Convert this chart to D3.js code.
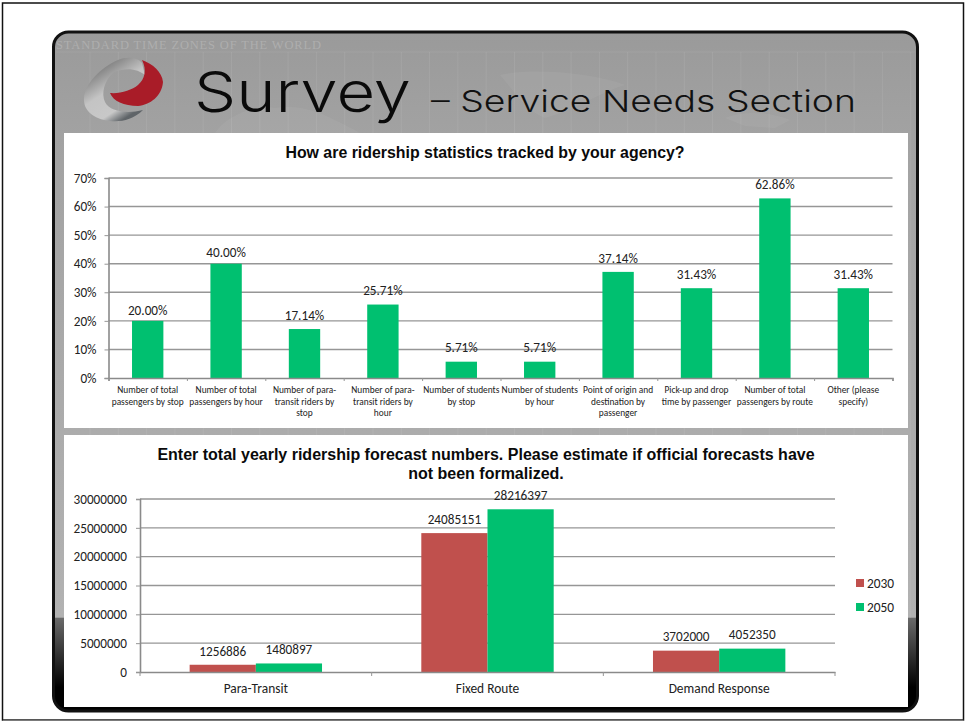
<!DOCTYPE html>
<html><head><meta charset="utf-8">
<script src="https://cdn.jsdelivr.net/npm/d3@7"></script>
<style>html,body{margin:0;padding:0;background:#fff}svg{display:block}</style>
</head><body><div id="c"></div>
<script>
const surveyCategories = [
  ["Number of total","passengers by stop"],
  ["Number of total","passengers by hour"],
  ["Number of para-","transit riders by","stop"],
  ["Number of para-","transit riders by","hour"],
  ["Number of students","by stop"],
  ["Number of students","by hour"],
  ["Point of origin and","destination by","passenger"],
  ["Pick-up and drop","time by passenger"],
  ["Number of total","passengers by route"],
  ["Other (please","specify)"]
];
const surveyValues = [20.00,40.00,17.14,25.71,5.71,5.71,37.14,31.43,62.86,31.43];
const surveyTicks = [0,10,20,30,40,50,60,70];
const forecastCategories = ["Para-Transit","Fixed Route","Demand Response"];
const forecast2030 = [1256886,24085151,3702000];
const forecast2050 = [1480897,28216397,4052350];
const forecastTicks = [0,5000000,10000000,15000000,20000000,25000000,30000000];
const seriesNames = ["2030","2050"];
const title1 = "How are ridership statistics tracked by your agency?";
const title2 = ["Enter total yearly ridership forecast numbers. Please estimate if official forecasts have","not been formalized."];

const GREEN="#00c070", RED="#c0504d", GRID="#969696", LBL="#222";
const CAL="Carlito,Lato,sans-serif", ARIAL="'Liberation Sans',Arial,sans-serif";
const svg=d3.select("#c").append("svg").attr("width",966).attr("height",721);
const defs=svg.append("defs");
const bg=defs.append("linearGradient").attr("id","bg").attr("x1",0).attr("y1",0).attr("x2",0).attr("y2",1);
[[0,"#9a9a9a"],[.15,"#a2a2a2"],[.5,"#aaa"],[.862,"#b2b2b2"],[.863,"#6a6a6a"],[.965,"#000"],[1,"#000"]].forEach(s=>bg.append("stop").attr("offset",s[0]).attr("stop-color",s[1]));
const lg=defs.append("linearGradient").attr("id","sw").attr("x1",.1).attr("y1",.2).attr("x2",.6).attr("y2",1);
[[0,"#777"],[.45,"#c4c4c4"],[.8,"#c8c8c8"],[1,"#5f6468"]].forEach(s=>lg.append("stop").attr("offset",s[0]).attr("stop-color",s[1]));

// page frame
svg.append("rect").attr("x",2.5).attr("y",3).attr("width",961).attr("height",717).attr("fill","#fff").attr("stroke","#111").attr("stroke-width",1.5);
svg.append("path").attr("d","M3 720.3H963.5").attr("stroke","#888").attr("stroke-width",1);
// slide
svg.append("rect").attr("x",53.5).attr("y",32).attr("width",864).attr("height",679).attr("rx",15).attr("fill","url(#bg)").attr("stroke","#111").attr("stroke-width",3);
// faint map graticule and land
const gr=svg.append("g").attr("stroke","#fff").attr("stroke-opacity",.08);
d3.range(90,915,28.3).forEach(x=>gr.append("line").attr("x1",x).attr("x2",x).attr("y1",52).attr("y2",618));
gr.append("line").attr("x1",56).attr("x2",915).attr("y1",52).attr("y2",52);
const land=svg.append("g").attr("fill","#fff").attr("fill-opacity",.05);
land.append("path").attr("d","M215 133C225 118 250 105 275 108C300 104 320 112 345 125L360 133Z");
land.append("path").attr("d","M500 75C530 68 590 72 625 85C600 92 580 108 545 118C525 110 515 92 500 75Z");
land.append("path").attr("d","M725 118C745 110 770 112 790 120L775 128L745 126Z");
svg.append("text").attr("x",56).attr("y",49).attr("font-family","'Liberation Serif',serif").attr("font-size",12.5).attr("fill","#aeaeae").attr("textLength",265).text("STANDARD TIME ZONES OF THE WORLD");
// logo
svg.append("path").attr("d","M143 110C133 120 121 122 110 121C93 119 83 110 84 98C85 84 100 68 118 60C128 56 138 58 142 63L145 75C138 69 127 67 114 72C104 80 101 94 105 102C110 112 128 114 143 110Z").attr("fill","url(#sw)");
svg.append("path").attr("d","M142 60C153 64 162 72 163 82C162 96 150 105 138 106C124 106 113 101 110 93C120 94 132 90 138 85C145 79 147 70 142 60Z").attr("fill","#a91c28");
// headline
svg.append("text").attr("x",194).attr("y",111.5).attr("font-family","Inter,sans-serif").attr("font-weight",300).attr("font-size",56).attr("fill","#0a0a0a").attr("textLength",217).attr("lengthAdjust","spacingAndGlyphs").text("Survey");
svg.append("text").attr("x",431).attr("y",112).attr("font-family","Inter,sans-serif").attr("font-weight",300).attr("font-size",30).attr("fill","#111").attr("textLength",425).attr("lengthAdjust","spacingAndGlyphs").text("– Service Needs Section");
// panels
svg.append("rect").attr("x",64).attr("y",133).attr("width",844).attr("height",295).attr("fill","#fff");
svg.append("rect").attr("x",64).attr("y",435).attr("width",844).attr("height",272).attr("fill","#fff");

// chart 1
const x1=d3.scaleBand().domain(d3.range(surveyValues.length)).range([108.5,892.5]).paddingInner(.6).paddingOuter(.3);
const y1=d3.scaleLinear().domain([0,70]).range([378,178]);
const g1=svg.append("g");
g1.selectAll("line.g").data(surveyTicks.filter(d=>d>0)).join("line").attr("x1",108.5).attr("x2",892.5).attr("y1",d=>y1(d)).attr("y2",d=>y1(d)).attr("stroke",GRID).attr("stroke-width",1.4);
g1.selectAll("rect").data(surveyValues).join("rect").attr("x",(d,i)=>x1(i)).attr("width",x1.bandwidth()).attr("y",d=>y1(d)).attr("height",d=>y1(0)-y1(d)).attr("fill",GREEN);
g1.append("g").attr("transform","translate(108.5,0)").call(d3.axisLeft(y1).tickValues(surveyTicks).tickFormat(d=>d+"%").tickSize(4).tickPadding(8));
g1.append("g").attr("transform","translate(0,378)").call(d3.axisBottom(d3.scaleLinear().domain([0,surveyValues.length]).range([108.5,892.5])).tickValues(d3.range(surveyValues.length+1)).tickFormat("").tickSize(3));
g1.selectAll("text.v").data(surveyValues).join("text").attr("class","v").attr("x",(d,i)=>x1(i)+x1.bandwidth()/2).attr("y",(d,i)=>y1(d)-(i<2?11:14)).attr("dy",".36em").attr("text-anchor","middle").attr("font-family",CAL).attr("font-size",13.2).attr("fill",LBL).text(d=>d.toFixed(2)+"%");
surveyCategories.forEach((lines,i)=>lines.forEach((l,j)=>g1.append("text").attr("x",x1(i)+x1.bandwidth()/2).attr("y",393+j*11.5).attr("text-anchor","middle").attr("font-family",CAL).attr("font-size",9.4).attr("fill",LBL).text(l)));
g1.append("text").attr("x",485).attr("y",158).attr("text-anchor","middle").attr("font-family",ARIAL).attr("font-weight",700).attr("font-size",15.9).attr("fill","#0a0a0a").text(title1);

// chart 2
const x2=d3.scaleBand().domain(forecastCategories).range([140,835]);
const xs=d3.scaleBand().domain(seriesNames).range([0,x2.bandwidth()]).paddingInner(0).paddingOuter(.75);
const y2=d3.scaleLinear().domain([0,30000000]).range([672,499]);
const g2=svg.append("g");
g2.selectAll("line.g").data(forecastTicks.filter(d=>d>0)).join("line").attr("x1",140).attr("x2",835).attr("y1",d=>y2(d)).attr("y2",d=>y2(d)).attr("stroke",GRID).attr("stroke-width",1.4);
[forecast2030,forecast2050].forEach((vals,k)=>{
  g2.selectAll("rect.s"+k).data(vals).join("rect").attr("class","s"+k).attr("x",(d,i)=>x2(forecastCategories[i])+xs(seriesNames[k])).attr("width",xs.bandwidth()).attr("y",d=>y2(d)).attr("height",d=>y2(0)-y2(d)).attr("fill",k?GREEN:RED);
  g2.selectAll("text.s"+k).data(vals).join("text").attr("class","s"+k).attr("x",(d,i)=>x2(forecastCategories[i])+xs(seriesNames[k])+xs.bandwidth()/2).attr("y",d=>y2(d)-14).attr("dy",".36em").attr("text-anchor","middle").attr("font-family",CAL).attr("font-size",13.2).attr("fill",LBL).text(d=>d);
});
g2.append("g").attr("transform","translate(140,0)").call(d3.axisLeft(y2).tickValues(forecastTicks).tickFormat(d3.format("d")).tickSize(4).tickPadding(9));
g2.append("g").attr("transform","translate(0,672)").call(d3.axisBottom(x2).tickValues([]).tickSize(0));
g2.selectAll("line.b").data(d3.range(forecastCategories.length+1)).join("line").attr("x1",d=>140+d*x2.step()).attr("x2",d=>140+d*x2.step()).attr("y1",672).attr("y2",676).attr("stroke",GRID);
g2.selectAll("text.c").data(forecastCategories).join("text").attr("class","c").attr("x",d=>x2(d)+x2.bandwidth()/2).attr("y",693).attr("text-anchor","middle").attr("font-family",CAL).attr("font-size",13.4).attr("fill",LBL).text(d=>d);
title2.forEach((t,i)=>g2.append("text").attr("x",486).attr("y",460+i*19).attr("text-anchor","middle").attr("font-family",ARIAL).attr("font-weight",700).attr("font-size",16).attr("fill","#0a0a0a").text(t));
seriesNames.forEach((s,i)=>{
  g2.append("rect").attr("x",856).attr("y",579+i*24).attr("width",8).attr("height",8).attr("fill",i?GREEN:RED);
  g2.append("text").attr("x",867).attr("y",587.5+i*24).attr("font-family",CAL).attr("font-size",13.4).attr("fill",LBL).text(s);
});
// axis styling
svg.selectAll(".domain").attr("stroke","#8a8a8a").attr("stroke-width",1.6);
svg.selectAll(".tick line").attr("stroke",GRID);
svg.selectAll(".tick text").attr("font-family",CAL).attr("font-size",13.2).attr("fill",LBL);
</script></body></html>
